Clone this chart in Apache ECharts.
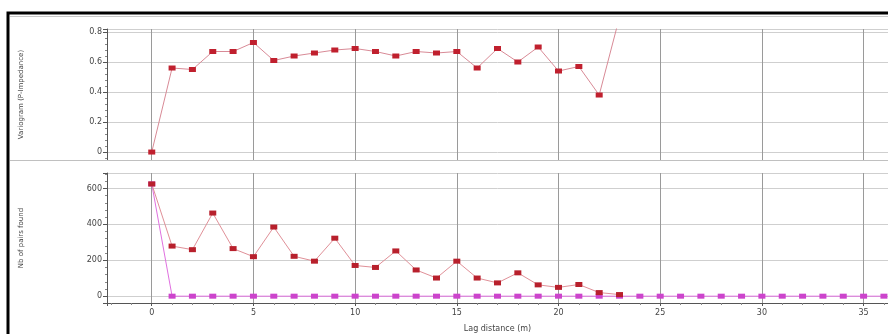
<!DOCTYPE html>
<html>
<head>
<meta charset="utf-8">
<script src="https://cdn.jsdelivr.net/npm/echarts@6/dist/echarts.min.js"></script>
<style>
  html, body { margin: 0; padding: 0; background: #fff; }
  #chart { width: 888px; height: 334px; }
</style>
</head>
<body>
<div id="chart"></div>
<script>
// lag classes (m)
const lags = [0, 1, 2, 3, 4, 5, 6, 7, 8, 9, 10, 11, 12, 13, 14, 15, 16, 17, 18, 19, 20, 21, 22, 23, 24, 25, 26, 27, 28, 29, 30, 31, 32, 33, 34, 35, 36]
// experimental variogram
const variogram = [0, 0.56, 0.55, 0.67, 0.67, 0.73, 0.61, 0.64, 0.66, 0.68, 0.69, 0.67, 0.64, 0.67, 0.66, 0.67, 0.56, 0.69, 0.6, 0.7, 0.54, 0.57, 0.38, 0.9]
// number of pairs found
const pairs = [625, 279, 259, 463, 265, 220, 385, 222, 195, 323, 171, 160, 252, 146, 101, 195, 101, 74, 130, 63, 49, 65, 20, 9]
const pairsZero = [625, 0, 0, 0, 0, 0, 0, 0, 0, 0, 0, 0, 0, 0, 0, 0, 0, 0, 0, 0, 0, 0, 0, 0, 0, 0, 0, 0, 0, 0, 0, 0, 0, 0, 0, 0, 0]

const pts = (xs, ys) => ys.map((v, i) => [xs[i], v])

const chart = echarts.init(document.getElementById('chart'))

const axisCol = '#555'
const labelStyle = { color: '#444', fontSize: 8, fontFamily: 'DejaVu Sans' }

const xAxisBase = {
  type: 'value',
  min: -2.2,
  max: 36.2,
  splitNumber: 8,
  axisLine: { show: true, onZero: false, lineStyle: { color: axisCol } },
  axisTick: { show: true, length: 3, lineStyle: { color: axisCol } },
  minorTick: { show: true, splitNumber: 5, length: 2, lineStyle: { color: '#888' } },
  splitLine: { show: true, lineStyle: { color: '#9a9a9a', width: 1 } },
  axisLabel: { show: true, showMinLabel: false, showMaxLabel: false, margin: 6, ...labelStyle }
}

const yAxisBase = {
  type: 'value',
  splitNumber: 4,
  axisLine: { show: true, onZero: false, lineStyle: { color: axisCol } },
  axisTick: { show: true, length: 4, lineStyle: { color: axisCol } },
  minorTick: { show: true, splitNumber: 5, length: 2, lineStyle: { color: '#888' } },
  splitLine: { show: true, lineStyle: { color: '#cfcfcf', width: 1 } },
  axisLabel: { showMinLabel: false, showMaxLabel: false, margin: 5, ...labelStyle },
  nameLocation: 'middle',
  nameRotate: 90,
  nameTextStyle: { color: '#444', fontSize: 7, fontFamily: 'DejaVu Sans' }
}

const option = {
  backgroundColor: '#fff',
  animation: false,
  grid: [
    { left: 107, width: 783, top: 29, height: 131 },
    { left: 107, width: 783, top: 173, height: 134 }
  ],
  xAxis: [
    { ...xAxisBase, gridIndex: 0, axisLine: { show: false }, axisTick: { show: false }, minorTick: { show: false }, axisLabel: { show: false } },
    { ...xAxisBase, gridIndex: 1, name: 'Lag distance (m)', nameLocation: 'middle', nameGap: 22,
      nameTextStyle: { color: '#444', fontSize: 8, fontFamily: 'DejaVu Sans' } }
  ],
  yAxis: [
    { ...yAxisBase, gridIndex: 0, min: -0.053, max: 0.82, name: 'Variogram (P-Impedance)', nameGap: 82 },
    { ...yAxisBase, gridIndex: 1, min: -38, max: 686, name: 'Nb of pairs found', nameGap: 82 }
  ],
  series: [
    {
      type: 'line', xAxisIndex: 0, yAxisIndex: 0, clip: true,
      data: pts(lags, variogram),
      symbol: 'rect', symbolSize: [7, 5],
      itemStyle: { color: '#c0202e' },
      lineStyle: { color: '#d88a96', width: 1 }
    },
    {
      type: 'line', xAxisIndex: 1, yAxisIndex: 1, clip: true,
      data: pts(lags, pairsZero),
      symbol: 'rect', symbolSize: [7, 5],
      itemStyle: { color: '#cc44cc' },
      lineStyle: { color: '#e070e0', width: 1 }
    },
    {
      type: 'line', xAxisIndex: 1, yAxisIndex: 1, clip: true,
      data: pts(lags, pairs),
      symbol: 'rect', symbolSize: [7, 5],
      itemStyle: { color: '#b8202c' },
      lineStyle: { color: '#e09098', width: 1 }
    }
  ],
  graphic: [
    { type: 'rect', shape: { x: 8, y: 13, width: 900, height: 400 }, style: { fill: 'none', stroke: '#000', lineWidth: 3 }, z: 100 },
    { type: 'line', shape: { x1: 10, y1: 16.5, x2: 888, y2: 16.5 }, style: { stroke: '#c8c8c8', lineWidth: 1 }, z: 100 },
    { type: 'line', shape: { x1: 10, y1: 160.5, x2: 888, y2: 160.5 }, style: { stroke: '#c0c0c0', lineWidth: 1 }, z: 100 }
  ]
}

chart.setOption(option)
</script>
</body>
</html>
